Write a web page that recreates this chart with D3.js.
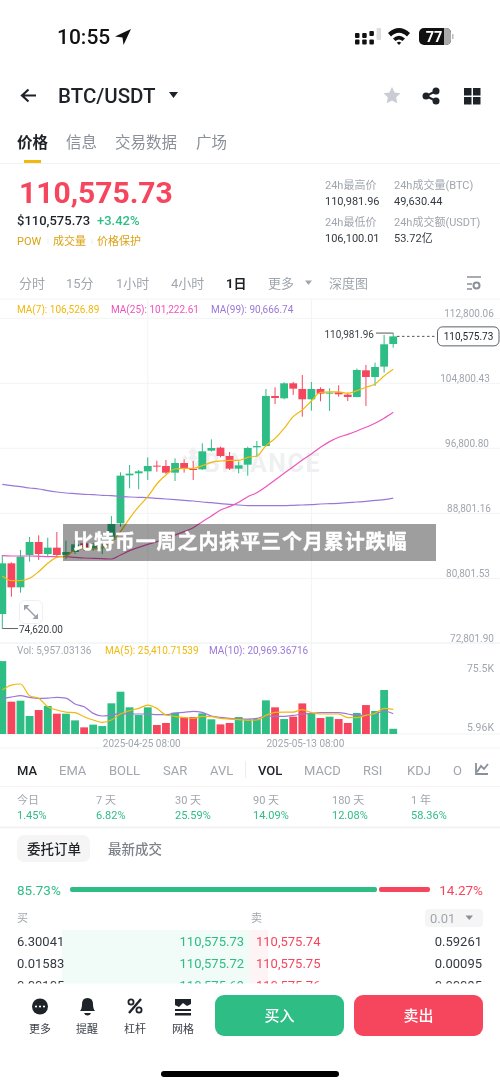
<!DOCTYPE html>
<html>
<head>
<meta charset="utf-8">
<style>
  html, body { margin: 0; padding: 0; background: #fff; }
  svg { display: block; filter: blur(0.3px); }
  text { font-family: Roboto, "Noto Sans CJK SC", sans-serif; }
</style>
<script src="https://cdn.jsdelivr.net/npm/d3@7"></script>
</head>
<body>
<svg id="app" width="500" height="1086"></svg>
<script>
// daily candles, 04-09 to 05-22
var days = ["04-09","04-10","04-11","04-12","04-13","04-14","04-15","04-16","04-17","04-18","04-19","04-20","04-21","04-22","04-23","04-24","04-25","04-26","04-27","04-28","04-29","04-30","05-01","05-02","05-03","05-04","05-05","05-06","05-07","05-08","05-09","05-10","05-11","05-12","05-13","05-14","05-15","05-16","05-17","05-18","05-19","05-20","05-21","05-22"];
var opens = [76407,82643,79689,83669,85269,83792,84572,83669,84039,85105,84367,84490,85515,87567,93476,93721,93967,94665,94624,93803,94993,94255,94214,96511,96880,95855,94295,94788,96922,97086,103241,102953,104800,104102,102830,104102,103528,103692,103404,103117,106400,105579,106851,109641];
var highs = [83669,82767,84285,85884,86091,85803,86500,85433,85515,85433,85187,85310,88470,93845,94747,94132,95691,95281,95363,95563,95444,95240,97414,97906,97004,96347,95157,97004,97701,104102,104307,104923,104964,105825,104964,104307,104184,104553,103651,106605,107056,107343,110749,110981.96];
var lows = [74620,78540,79033,82848,83054,83546,83546,83136,83792,84202,84202,83792,85310,87157,91875,91752,92901,93926,93639,92778,93803,92901,94132,96388,95691,94132,93721,93434,95773,97004,102256,102830,103363,100697,101435,102584,101394,103158,102625,103076,102009,104471,106113,109190];
var closes = [82643,79689,83464,85269,83792,84572,83669,84039,84983,84490,84777,84695,87485,93435,93681,93967,94624,94583,93803,94993,94378,94173,96430,96839,95855,94295,94706,96839,97086,103241,102994,104800,104143,102830,104102,103528,103651,103445,103117,106441,105579,106810,109600,110575.73];
var ma7 = [81084,80510,80510,80797,81618,82643,83382,83546,84285,84490,84490,84613,85310,86541,88182,89618,90849,92408,93516,94255,94337,94337,94665,95075,95240,95322,95322,95691,95855,97127,98029,99260,100697,101517,102625,103692,103733,103733,103569,103897,104307,104717,105702,106526.89];
var ma25 = [83587,83546,83546,83546,83505,83464,83464,83464,83382,83300,83259,83218,83177,83669,84202,84613,84983,85310,85721,86131,86541,87034,87772,88470,89208,89618,90152,90849,91342,92080,92901,93721,94542,95363,96101,96922,97620,98153,98522,98932,99383,99876,100492,101222.61];
var ma99 = [92367,92203,92080,91916,91793,91588,91424,91300,91219,91137,91096,91014,90973,90891,90809,90767,90726,90644,90562,90480,90398,90316,90193,90111,89988,89906,89824,89741,89741,89741,89741,89741,89782,89824,89865,89947,89988,90029,90111,90193,90275,90398,90480,90666.74];
// volume in thousands
var vols = [83.4,37,38.1,20.6,27.4,32,23.2,23.2,15.6,7.6,10.7,9.1,35.1,48.4,30.5,21.7,30.5,10.3,12.6,24.4,19,19.4,23.6,16.8,11,12.6,19.4,16.8,17.5,38.5,30.5,17.1,19.8,35,23.6,18.3,19.8,17.1,12.6,24,33.1,26.3,50.3,5.957];
var volMa5 = [50.3,56,57.2,43.8,40.8,31.2,27.4,25.1,24.4,19.8,16,13.3,16,22.9,26.7,29.3,33.1,29.3,21.7,20.2,18.7,17.9,20.2,19.8,17.9,17.1,16.4,15.6,16,21.3,24.8,25.1,25.1,27.8,24.4,22.9,22.9,22.9,18.7,18.7,21.3,23.6,29.3,28.2];
var volMa10 = [40.8,42.3,43.8,41.9,40.8,41.1,41.9,41.1,34.3,31.2,23.6,20.6,21.7,23.2,22.9,22.9,22.9,22.1,22.1,24,24.8,25.9,24.8,20.6,19.1,17.9,17.1,17.1,17.9,20.6,20.2,20.2,21.3,22.9,23.6,24.4,24.4,24.4,22.9,21.3,21.7,22.9,26.3,23.2];

var priceTicks = [112800.06,104800.43,96800.80,88801.16,80801.53,72801.90];
var volTicks = [75.5,5.96];
var dateTicks = ["04-25","05-13"];
var dateLabels = {"04-25":"2025-04-25 08:00","05-13":"2025-05-13 08:00"};

var indicators = ["MA","EMA","BOLL","SAR","AVL","VOL","MACD","RSI","KDJ","O"];
var periods = ["今日","7 天","30 天","90 天","180 天","1 年"];
var periodChanges = ["1.45%","6.82%","25.59%","14.09%","12.08%","58.36%"];
var intervals = ["分时","15分","1小时","4小时","1日","更多","深度图"];
var bookRows = [
  ["6.30041","110,575.73","110,575.74","0.59261"],
  ["0.01583","110,575.72","110,575.75","0.00095"],
  ["0.00105","110,575.69","110,575.76","0.00095"]
];

var GREEN = "#2ebd85", RED = "#f6465d", GRID = "#f2f3f4", GREY = "#a0a6ae", DARK = "#1e2329";
var YELLOW = "#f0b90b", PINK = "#ee55bb", PURPLE = "#9b78d8";

var svg = d3.select("#app");

function label(x, y, str, size, color, weight, anchor, parent) {
  return (parent || svg).append("text")
    .attr("x", x).attr("y", y)
    .attr("dy", "0.35em")
    .attr("font-size", size)
    .attr("fill", color)
    .attr("font-weight", weight || 400)
    .attr("text-anchor", anchor || "start")
    .text(str);
}

function hline(y, x1, x2, color, w) {
  svg.append("line").attr("x1", x1).attr("x2", x2).attr("y1", y).attr("y2", y)
    .attr("stroke", color).attr("stroke-width", w || 1);
}

// ---- status bar
label(57, 37, "10:55", 21, "#111", 500);
svg.append("path").attr("d", "M131 29 L115 36.5 L122.5 37.5 L123.5 45 Z").attr("fill", "#111");
[0,1,2,3].forEach(function(c) {
  [0,1].forEach(function(r) {
    var h = c == 3 ? 5.5 : 5;
    svg.append("rect").attr("x", 355 + c * 7.2).attr("y", 33 + r * 6.5 - (c == 3 ? 5 : (c == 2 && r == 0 ? 2 : 0)))
      .attr("width", 4.5).attr("height", c == 3 && r == 0 ? 10 : h).attr("rx", 1)
      .attr("fill", c == 3 ? "#ddd" : "#111");
  });
});
svg.append("path").attr("d", "M388 33 Q399 23 410 33 L407 36.5 Q399 29 391 36.5 Z M393 38.5 Q399 33 405 38.5 L402.5 41 Q399 38 395.5 41 Z M399 45 L396.8 42.7 Q399 41 401.2 42.7 Z").attr("fill", "#111");
svg.append("rect").attr("x", 419).attr("y", 28).attr("width", 32).attr("height", 17).attr("rx", 5).attr("fill", "#111");
svg.append("path").attr("d", "M444 28 h2 a5 5 0 0 1 5 5 v7 a5 5 0 0 1 -5 5 h-2 Z").attr("fill", "#aaa");
svg.append("rect").attr("x", 452).attr("y", 34).attr("width", 1.5).attr("height", 5).attr("fill", "#bbb");
label(434, 36.5, "77", 14.5, "#fff", 700, "middle");

// ---- nav bar
svg.append("path").attr("d", "M36 95.5 H23 M28.5 89.5 L22 95.5 L28.5 101.5").attr("fill", "none").attr("stroke", DARK).attr("stroke-width", 2.2);
label(58, 96, "BTC/USDT", 20.5, DARK, 500);
svg.append("path").attr("d", "M169 92 h9 l-4.5 6 Z").attr("fill", DARK);
svg.append("path").attr("d", "M392 87 l2.6 5.4 5.9 .8 -4.3 4.1 1 5.9 -5.2 -2.8 -5.2 2.8 1 -5.9 -4.3 -4.1 5.9 -.8 Z").attr("fill", "#c9cdd3");
svg.append("path").attr("d", "M436 91 L426 96 L436 101").attr("fill", "none").attr("stroke", DARK).attr("stroke-width", 2);
[[436,91],[426,96],[436,101]].forEach(function(p) {
  svg.append("circle").attr("cx", p[0]).attr("cy", p[1]).attr("r", 3.5).attr("fill", DARK);
});
[[464,88],[473,88],[464,97],[473,97]].forEach(function(p) {
  svg.append("rect").attr("x", p[0]).attr("y", p[1]).attr("width", 7.5).attr("height", 7.5).attr("fill", DARK);
});

// ---- section tabs
label(17, 142.5, "价格", 15.5, DARK, 700);
label(66, 142.5, "信息", 15.5, "#8a9099");
label(115, 142.5, "交易数据", 15.5, "#8a9099");
label(196, 142.5, "广场", 15.5, "#8a9099");
svg.append("rect").attr("x", 24).attr("y", 160).attr("width", 17).attr("height", 3).attr("fill", YELLOW);
hline(163.5, 0, 500, "#f2f2f2");

// ---- price header
label(19, 192, "110,575.73", 30, RED, 700);
label(17, 220.5, "$110,575.73", 13, DARK, 500);
label(97, 220.5, "+3.42%", 13, GREEN, 500);
label(17, 241.5, "POW", 11, "#dba213");
label(53, 241.5, "成交量", 11, "#dba213");
label(97, 241.5, "价格保护", 11, "#dba213");
[48,92].forEach(function(x) {
  svg.append("line").attr("x1", x).attr("x2", x).attr("y1", 239).attr("y2", 244).attr("stroke", "#eee");
});
label(325, 185, "24h最高价", 11, GREY);
label(325, 201, "110,981.96", 11, "#333a42");
label(325, 222.5, "24h最低价", 11, GREY);
label(325, 238.5, "106,100.01", 11, "#333a42");
label(394, 185, "24h成交量(BTC)", 11, GREY);
label(394, 201, "49,630.44", 11, "#333a42");
label(394, 222.5, "24h成交额(USDT)", 11, GREY);
label(394, 238.5, "53.72亿", 11, "#333a42");

// ---- interval row
var intervalX = [19,66,116,171,226,268,329];
intervals.forEach(function(s, i) {
  var on = s == "1日";
  label(intervalX[i], 283.5, s, 13, on ? DARK : GREY, on ? 700 : 400);
});
svg.append("path").attr("d", "M305 280.5 h7 l-3.5 4.5 Z").attr("fill", GREY);
svg.append("path").attr("d", "M467 277 h14 M467 284 h5 M467 289 h5").attr("stroke", "#8a9099").attr("stroke-width", 1.6);
svg.append("circle").attr("cx", 476.5).attr("cy", 285.5).attr("r", 3).attr("fill", "none").attr("stroke", "#8a9099").attr("stroke-width", 2);
hline(299, 0, 500, "#f4f4f4");

// ---- chart scales
var x = d3.scaleBand().domain(days).range([-2.24, 397.76]).paddingInner(0.14).paddingOuter(0.07);
var xc = function(d) { return x(d) + x.bandwidth() / 2; };
var y = d3.scaleLinear().domain([72801.90, 112800.06]).range([643.3, 318.3]);
var yv = d3.scaleLinear().domain([0, 75.5]).range([734, 668]);

// grid
priceTicks.slice(0, 5).forEach(function(p) { hline(y(p), 0, 500, GRID); });
hline(643, 0, 500, GRID, 1.5);
hline(734, 0, 500, GRID);
hline(748, 0, 500, GRID);
svg.append("g").selectAll("line").data(dateTicks).enter().append("line")
  .attr("x1", xc).attr("x2", xc).attr("y1", 299).attr("y2", 748)
  .attr("stroke", GRID);

// watermark
svg.append("path").attr("d", "M193 447 l5 5 -5 5 -5 -5 Z M185 455 l3 3 -3 3 -3 -3 Z M201 455 l3 3 -3 3 -3 -3 Z M193 453 l5 5 -5 5 -5 -5 Z M193 465 l5 -5 5 5 -5 5 -5 -5 Z").attr("fill", "#eff0f1");
label(204, 463, "BINANCE", 25, "#eff0f1", 700).attr("letter-spacing", 1.6);

// legend
label(17, 309, "MA(7): 106,526.89", 10, YELLOW);
label(111, 309, "MA(25): 101,222.61", 10, PINK);
label(211, 309, "MA(99): 90,666.74", 10, PURPLE);

// price axis
var tickShift = [0,-4,-2,0,-1,3];
var yAxis = svg.append("g").attr("transform", "translate(469,0)")
  .call(d3.axisRight(y).tickValues(priceTicks).tickSize(0).tickFormat(d3.format(",.2f")));
yAxis.select(".domain").remove();
yAxis.selectAll("text")
  .attr("x", function(d, i) { return tickShift[i]; })
  .attr("y", -5.5)
  .attr("text-anchor", "middle")
  .attr("font-size", 10)
  .attr("font-family", null)
  .attr("fill", GREY);

// candles
var color = function(i) { return closes[i] >= opens[i] ? GREEN : RED; };
var candles = svg.append("g").selectAll("g").data(days).enter().append("g");
candles.append("line")
  .attr("x1", xc).attr("x2", xc)
  .attr("y1", function(d, i) { return y(highs[i]); })
  .attr("y2", function(d, i) { return y(lows[i]); })
  .attr("stroke", function(d, i) { return color(i); })
  .attr("stroke-width", 1);
candles.append("rect")
  .attr("x", function(d) { return x(d); })
  .attr("width", x.bandwidth())
  .attr("y", function(d, i) { return y(Math.max(opens[i], closes[i])); })
  .attr("height", function(d, i) { return Math.max(1, Math.abs(y(opens[i]) - y(closes[i]))); })
  .attr("fill", function(d, i) { return color(i); });

// moving averages
function drawLine(vals, scale, stroke) {
  var line = d3.line().x(function(d, i) { return xc(days[i]); }).y(function(d) { return scale(d); }).curve(d3.curveMonotoneX);
  svg.append("path").datum(vals).attr("d", line).attr("fill", "none").attr("stroke", stroke).attr("stroke-width", 1.2);
}
drawLine(ma99, y, PURPLE);
drawLine(ma25, y, PINK);
drawLine(ma7, y, YELLOW);

// high / low / last markers
var lastIdx = days.length - 1, lowIdx = 0;
hline(y(highs[lastIdx]), 376, xc(days[lastIdx]), "#555");
label(374, y(highs[lastIdx]) + 1, d3.format(",.2f")(highs[lastIdx]), 10, "#3c424a", 400, "end");
hline(y(lows[lowIdx]), xc(days[lowIdx]), 18, "#666");
label(19, y(lows[lowIdx]) + 0.5, d3.format(",.2f")(lows[lowIdx]), 10, "#3c424a");
svg.append("line").attr("x1", 397).attr("x2", 437).attr("y1", y(closes[lastIdx])).attr("y2", y(closes[lastIdx]))
  .attr("stroke", "#555").attr("stroke-dasharray", "2.5 2.5");
svg.append("rect").attr("x", 437.5).attr("y", y(closes[lastIdx]) - 9.5).attr("width", 61.5).attr("height", 19).attr("rx", 5)
  .attr("fill", "#fff").attr("stroke", "#5c6066");
label(468.5, y(closes[lastIdx]) + 0.5, d3.format(",.2f")(closes[lastIdx]), 10, "#23282e", 400, "middle");

// expand button
svg.append("rect").attr("x", 19.5).attr("y", 600.5).attr("width", 23).attr("height", 23).attr("rx", 5).attr("fill", "#fff").attr("stroke", "#eeeff1");
svg.append("path").attr("d", "M24 605 h5.5 l-5.5 5.5 Z M38 619 h-5.5 l5.5 -5.5 Z").attr("fill", "#9ba1a9");
svg.append("path").attr("d", "M26 607 L36 617").attr("stroke", "#9ba1a9").attr("stroke-width", 1.5);

// ---- volume panel
label(17, 650, "Vol: 5,957.03136", 10, GREY);
label(105, 650, "MA(5): 25,410.71539", 10, YELLOW);
label(209, 650, "MA(10): 20,969.36716", 10, PURPLE);

svg.append("g").selectAll("rect").data(days).enter().append("rect")
  .attr("x", function(d) { return x(d); })
  .attr("width", x.bandwidth())
  .attr("y", function(d, i) { return yv(vols[i]); })
  .attr("height", function(d, i) { return yv(0) - yv(vols[i]); })
  .attr("fill", function(d, i) { return color(i); });
drawLine(volMa10, yv, PURPLE);
drawLine(volMa5, yv, YELLOW);

var vAxis = svg.append("g").attr("transform", "translate(494,0)")
  .call(d3.axisLeft(yv).tickValues(volTicks).tickSize(0).tickFormat(function(d) { return d + "K"; }));
vAxis.select(".domain").remove();
vAxis.selectAll("text").attr("x", 0).attr("y", function(d) { return d < 10 ? -2 : 0; })
  .attr("font-size", 10.5).attr("font-family", null).attr("fill", GREY);

var xAxis = svg.append("g").attr("transform", "translate(-6,737)")
  .call(d3.axisBottom(x).tickValues(dateTicks).tickSize(0).tickFormat(function(d) { return dateLabels[d]; }));
xAxis.select(".domain").remove();
xAxis.selectAll("text").attr("font-size", 10).attr("font-family", null).attr("fill", GREY);

// ---- news banner over the chart
svg.append("rect").attr("x", 63).attr("y", 524).attr("width", 373).attr("height", 37).attr("fill", "rgba(0,0,0,0.38)");
label(73, 542, "比特币一周之内抹平三个月累计跌幅", 20, "#fff", 700)
  .attr("letter-spacing", 0.9).attr("stroke", "#fff").attr("stroke-width", 0.4);

// ---- indicator tabs
var indicatorX = [17,59,109,163,210,258,304,363,407,453];
indicators.forEach(function(s, i) {
  var on = s == "MA" || s == "VOL";
  label(indicatorX[i], 770, s, 13, on ? DARK : GREY, on ? 500 : 400);
});
svg.append("line").attr("x1", 245.5).attr("x2", 245.5).attr("y1", 761).attr("y2", 778).attr("stroke", "#eaecef");
svg.append("rect").attr("x", 464).attr("y", 758).attr("width", 36).attr("height", 24).attr("fill", "#fff");
svg.append("path").attr("d", "M476 763 V774 H488 M477 772 L481 766 L484 769 L488 764").attr("fill", "none").attr("stroke", "#8a9099").attr("stroke-width", 1.8);
hline(786.5, 0, 500, "#f4f4f4");

// ---- period returns
var periodX = [17,96,175,253,332,411];
periods.forEach(function(s, i) {
  label(periodX[i], 800, s, 11, GREY);
  label(periodX[i], 815.5, periodChanges[i], 11, GREEN);
});
hline(827.5, 0, 500, "#f0f0f0", 1.5);

// ---- order book
svg.append("rect").attr("x", 17).attr("y", 835).attr("width", 73).attr("height", 27).attr("rx", 7).attr("fill", "#f5f5f5");
label(27, 849, "委托订单", 13.5, DARK, 500);
label(108, 849, "最新成交", 13.5, "#7c828a", 500);

label(17, 890, "85.73%", 13.5, GREEN);
label(483, 890, "14.27%", 13.5, RED, 400, "end");
svg.append("rect").attr("x", 70).attr("y", 887).attr("width", 307).attr("height", 5).attr("rx", 2).attr("fill", GREEN);
svg.append("rect").attr("x", 379).attr("y", 887).attr("width", 51).attr("height", 5).attr("rx", 2).attr("fill", RED);

label(17, 918, "买", 11, GREY);
label(251, 918, "卖", 11, GREY);
svg.append("rect").attr("x", 425).attr("y", 909).attr("width", 58).attr("height", 18).attr("rx", 4).attr("fill", "#f5f5f5");
label(430, 918, "0.01", 13, GREY);
svg.append("path").attr("d", "M465.5 915.5 h7.5 l-3.75 4.5 Z").attr("fill", "#8a9099");

svg.append("clipPath").attr("id", "bookClip").append("rect").attr("x", 0).attr("y", 930).attr("width", 500).attr("height", 53.5);
var book = svg.append("g").attr("clip-path", "url(#bookClip)");
book.append("rect").attr("x", 62).attr("y", 930).attr("width", 188).attr("height", 54).attr("fill", "#f1fbf7");
book.append("rect").attr("x", 250).attr("y", 930).attr("width", 18).attr("height", 54).attr("fill", "#fff4f5");
var rowY = d3.scalePoint().domain([0,1,2]).range([941, 985]);
bookRows.forEach(function(r, i) {
  label(17, rowY(i), r[0], 13, "#333a42", 400, "start", book);
  label(244, rowY(i), r[1], 13, GREEN, 400, "end", book);
  label(256, rowY(i), r[2], 13, RED, 400, "start", book);
  label(482, rowY(i), r[3], 13, "#333a42", 400, "end", book);
});

// ---- bottom bar
svg.append("circle").attr("cx", 40).attr("cy", 1006.5).attr("r", 8).attr("fill", DARK);
[36,40,44].forEach(function(cx) { svg.append("circle").attr("cx", cx).attr("cy", 1006.5).attr("r", 1.1).attr("fill", "#fff"); });
svg.append("path").attr("d", "M80 1011 Q82 1009 82 1004 Q82 998 87.5 998 Q93 998 93 1004 Q93 1009 95 1011 Z M84 1013 h7 q-1 2.5 -3.5 2.5 q-2.5 0 -3.5 -2.5 Z").attr("fill", DARK);
svg.append("path").attr("d", "M129 1013 L141 999").attr("stroke", DARK).attr("stroke-width", 2.4);
svg.append("circle").attr("cx", 131).attr("cy", 1002).attr("r", 2.6).attr("fill", "none").attr("stroke", DARK).attr("stroke-width", 1.8);
svg.append("circle").attr("cx", 139).attr("cy", 1010).attr("r", 2.6).attr("fill", "none").attr("stroke", DARK).attr("stroke-width", 1.8);
svg.append("path").attr("d", "M175 999 h16 v5 l-4 2 -4 -3 -4 4 -4 -2 Z M175 1009 h16 v2 h-16 Z M175 1013 h16 v2.5 h-16 Z").attr("fill", DARK);
[["更多",40],["提醒",87],["杠杆",135],["网格",183]].forEach(function(b) {
  label(b[1], 1029, b[0], 11, "#3c424a", 400, "middle");
});
svg.append("rect").attr("x", 215).attr("y", 995).attr("width", 129).attr("height", 41).attr("rx", 9).attr("fill", GREEN);
svg.append("rect").attr("x", 354).attr("y", 995).attr("width", 129).attr("height", 41).attr("rx", 9).attr("fill", RED);
label(279.5, 1016, "买入", 15, "#fff", 500, "middle");
label(418.5, 1016, "卖出", 15, "#fff", 500, "middle");
svg.append("rect").attr("x", 161).attr("y", 1071).attr("width", 178).attr("height", 6).attr("rx", 3).attr("fill", "#000");
</script>
</body>
</html>
